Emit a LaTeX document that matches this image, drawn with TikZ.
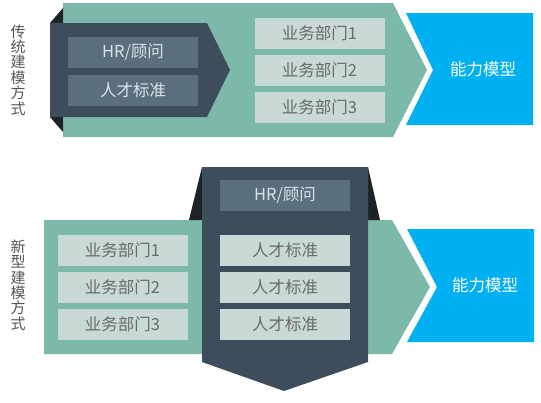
\documentclass[tikz,border=0pt]{standalone}
\usepackage{fontspec}
\setmainfont{Noto Sans CJK SC}
\definecolor{tealc}{HTML}{7DB9AB}
\definecolor{darkc}{HTML}{3D4D5B}
\definecolor{blkc}{HTML}{1E2328}
\definecolor{hrc}{HTML}{5B6E7C}
\definecolor{litec}{HTML}{C9D9D6}
\definecolor{bluec}{HTML}{00B0F0}
\definecolor{gtext}{HTML}{6A6A6A}
\definecolor{ltext}{HTML}{DCE3E8}
\definecolor{sidetext}{HTML}{555555}
\begin{document}
\begin{tikzpicture}[x=1pt,y=-1pt,
  boxbase/.style={minimum width=130pt,minimum height=31pt,inner sep=0pt,font=\fontsize{16.5}{16.5}\selectfont},
  litebox/.style={boxbase,fill=litec,text=gtext},
  hrbox/.style={boxbase,fill=hrc,text=ltext},
  sidelabel/.style={align=center,text=sidetext,font=\fontsize{15}{15.4}\selectfont,inner sep=0pt},
  bluelabel/.style={text=white,font=\fontsize{16.5}{16.5}\selectfont,inner sep=0pt}]
\useasboundingbox (0,0) rectangle (541,402);
% ---------- top: traditional ----------
\fill[tealc] (63,3) -- (393,3) -- (427,70) -- (393,137) -- (63,137) -- cycle;
\fill[blkc] (50,23) -- (63,8) -- (63,23) -- cycle;
\fill[blkc] (50,117) -- (63,132) -- (63,117) -- cycle;
\fill[darkc] (50,23) -- (207,23) -- (230,70) -- (207,117) -- (50,117) -- cycle;
\fill[bluec] (406,13) -- (533,13) -- (533,125) -- (406,125) -- (433,70) -- cycle;
\node[hrbox] (thr) at (133,52.5) {HR/顾问};
\node[hrbox] (tstd) at (133,90.5) {人才标准};
\node[litebox] (td1) at (319.5,33.5) {业务部门1};
\node[litebox] (td2) at (319.5,70.5) {业务部门2};
\node[litebox] (td3) at (319.5,107.5) {业务部门3};
\node[bluelabel] (tmodel) at (483,69) {能力模型};
\node[sidelabel] (tlabel) at (18,70) {传\\统\\建\\模\\方\\式};
% ---------- bottom: new ----------
\fill[tealc] (44,220) -- (392,220) -- (430,287) -- (392,354) -- (44,354) -- cycle;
\fill[blkc] (202,167) -- (189,220) -- (202,220) -- cycle;
\fill[blkc] (368,167) -- (380,220) -- (368,220) -- cycle;
\fill[darkc] (202,167) -- (368,167) -- (368,362) -- (284,391) -- (202,362) -- cycle;
\fill[bluec] (407,229) -- (534,229) -- (534,342) -- (407,342) -- (437,287) -- cycle;
\node[hrbox] (bhr) at (285,195) {HR/顾问};
\node[litebox] (bs1) at (285,250.5) {人才标准};
\node[litebox] (bs2) at (285,287.5) {人才标准};
\node[litebox] (bs3) at (285,324.5) {人才标准};
\node[litebox] (bd1) at (122.5,250.5) {业务部门1};
\node[litebox] (bd2) at (122.5,287.5) {业务部门2};
\node[litebox] (bd3) at (122.5,324.5) {业务部门3};
\node[bluelabel] (bmodel) at (485,285) {能力模型};
\node[sidelabel] (blabel) at (18,285) {新\\型\\建\\模\\方\\式};
\end{tikzpicture}
\end{document}
